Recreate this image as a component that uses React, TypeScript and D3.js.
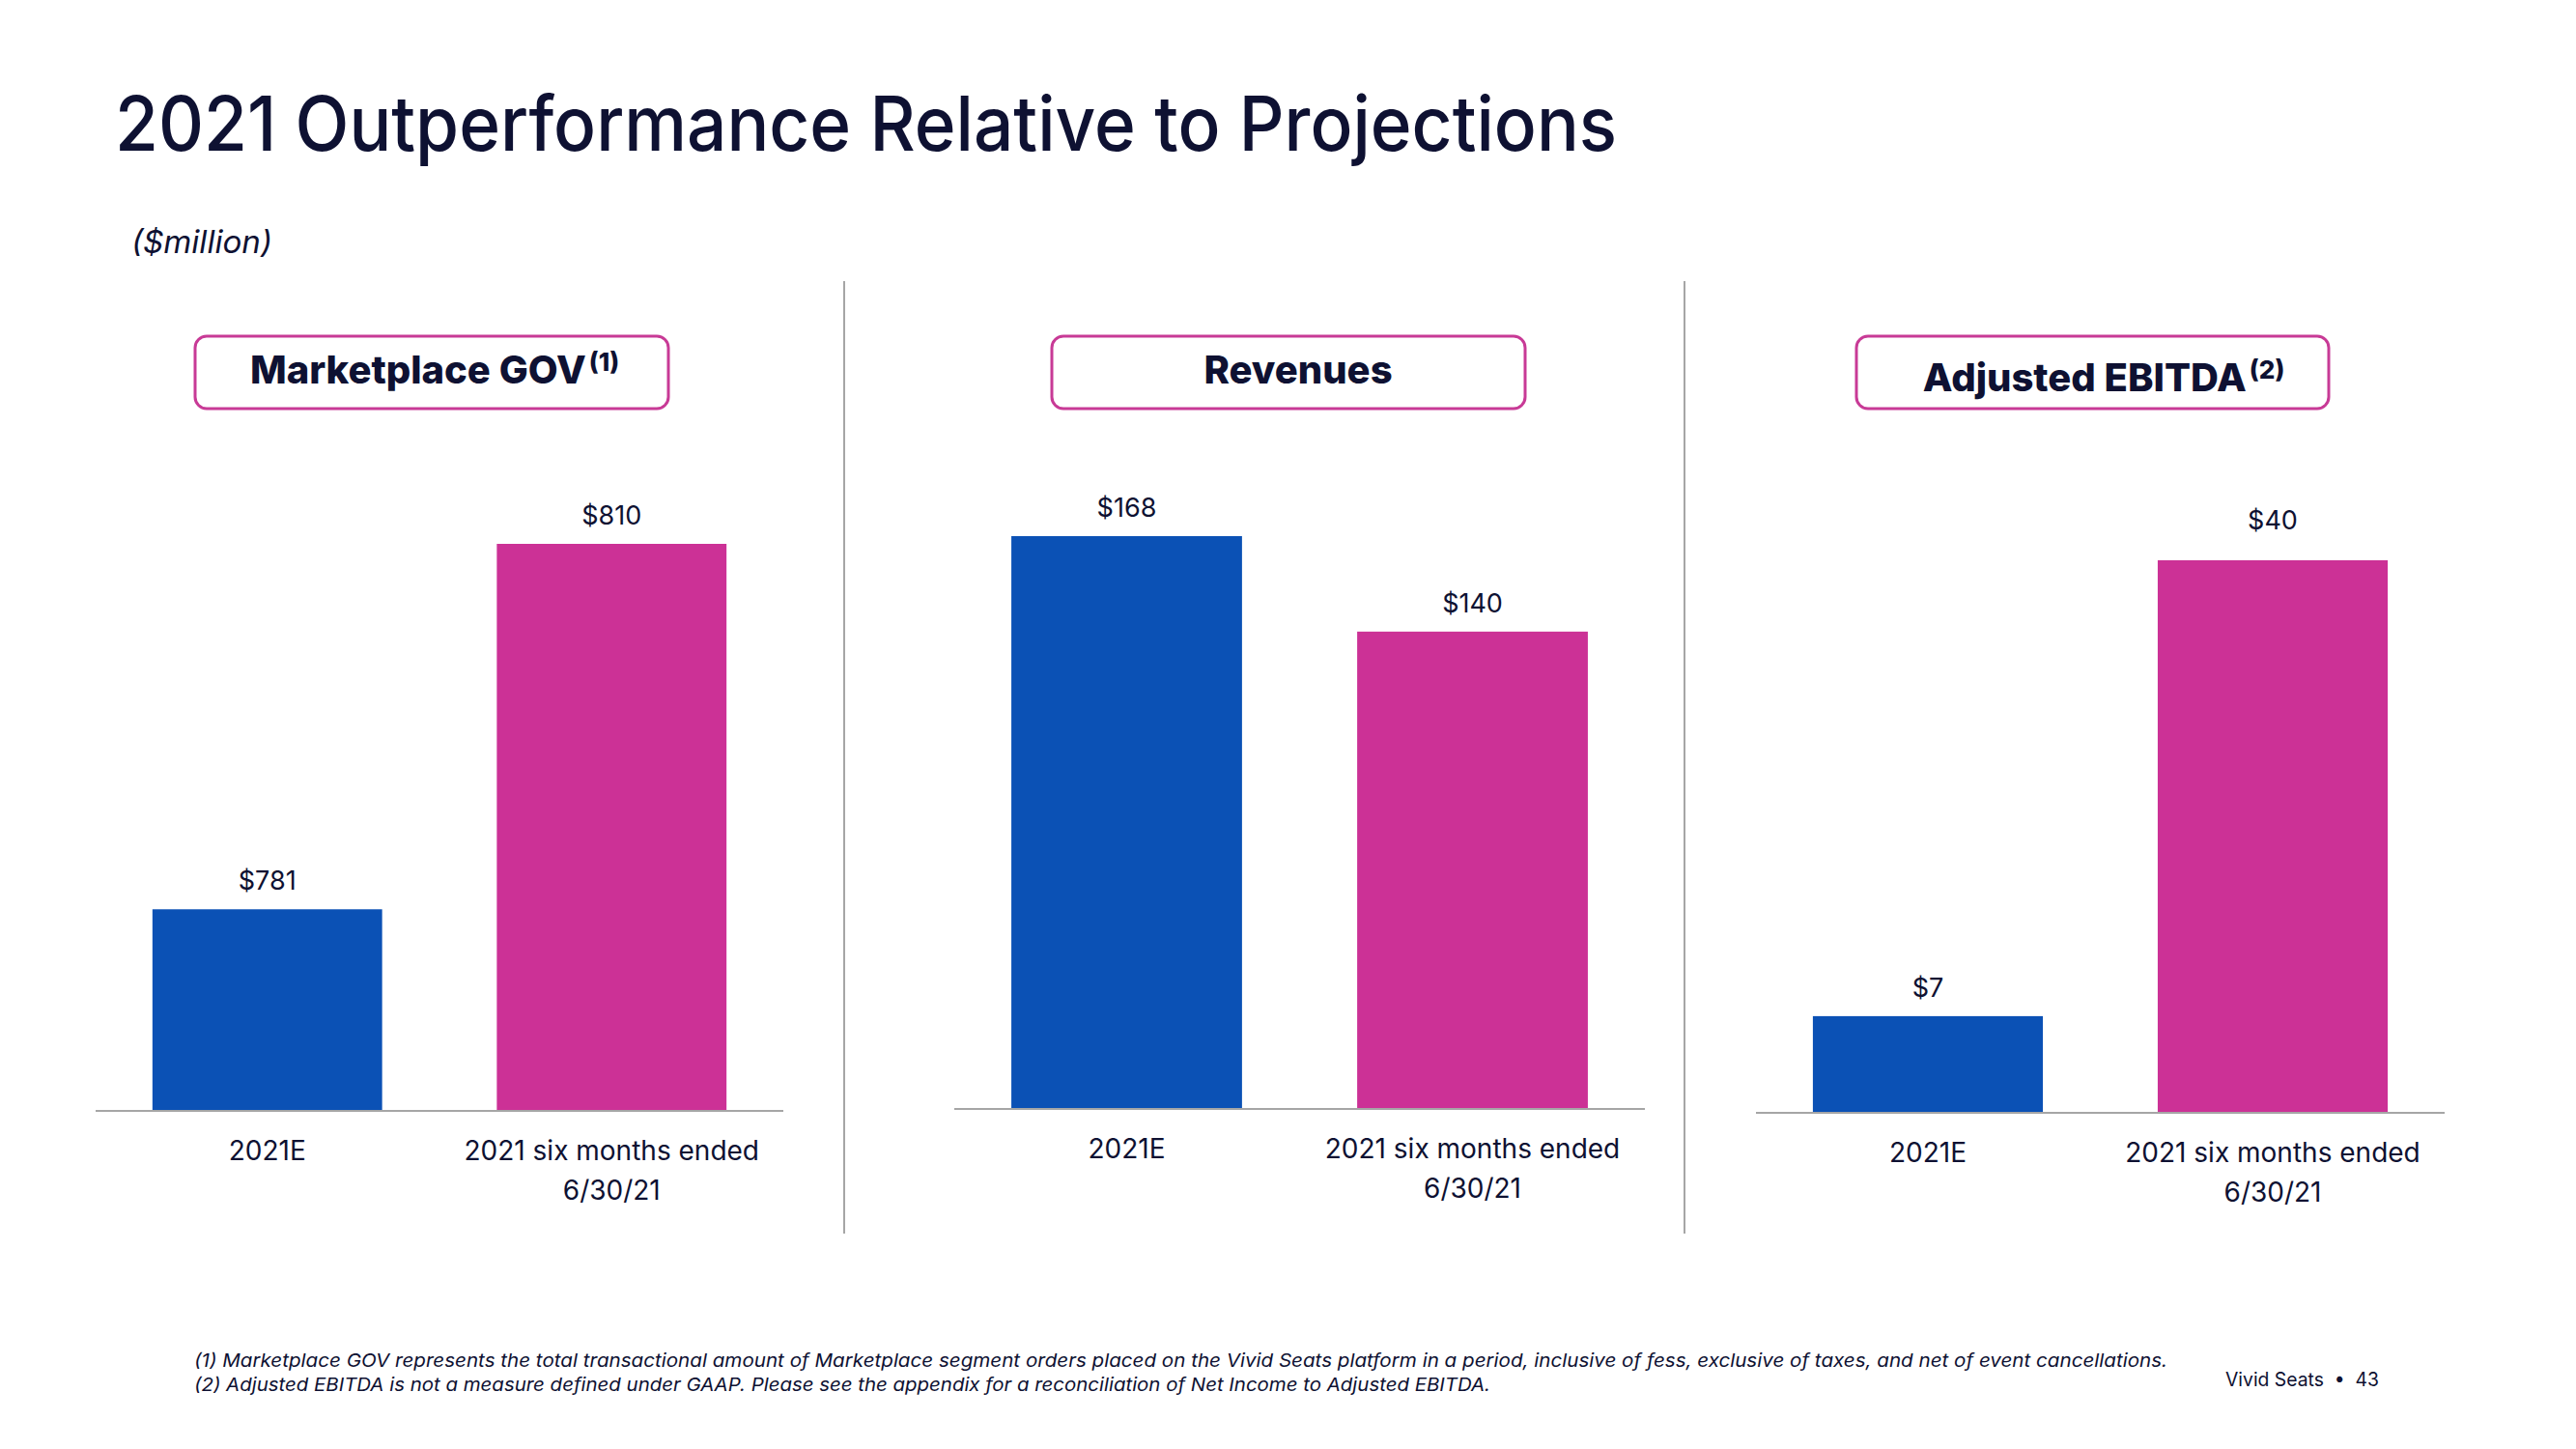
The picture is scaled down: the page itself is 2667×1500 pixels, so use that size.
import React from "react";
import * as d3 from "d3";

const W = 2667;
const H = 1500;

const titleText = "2021 Outperformance Relative to Projections";
const unitText = "($million)";
const panelTitles = ["Marketplace GOV", "Revenues", "Adjusted EBITDA"];
const panelNotes = ["(1)", "", "(2)"];
const categories = ["2021E", "2021 six months ended|6/30/21"];
const govValues = [781, 810];
const revenueValues = [168, 140];
const ebitdaValues = [7, 40];
const valueLabels = [["$781", "$810"], ["$168", "$140"], ["$7", "$40"]];
const axisMins = [765, 0, 0];
const footnotes = [
  "(1) Marketplace GOV represents the total transactional amount of Marketplace segment orders placed on the Vivid Seats platform in a period, inclusive of fess, exclusive of taxes, and net of event cancellations.",
  "(2) Adjusted EBITDA is not a measure defined under GAAP.  Please see the appendix for a reconciliation of Net Income to Adjusted EBITDA.",
];
const pageLabel = "Vivid Seats  \u2022  43";

const seriesValues = [govValues, revenueValues, ebitdaValues];
const barColors = ["#0b51b5", "#cc3196"];
const INK = "#0e1132";
const FONT = "Inter, 'Open Sans', sans-serif";

const panels = [
  { x0: 99, x1: 811, axisY: 1150, topY: 563, box: [202, 692], titleX: 450, titleY: 397, catY: 1201 },
  { x0: 988, x1: 1703, axisY: 1148, topY: 555, box: [1089, 1579], titleX: 1344, titleY: 397, catY: 1199 },
  { x0: 1818, x1: 2531, axisY: 1152, topY: 580, box: [1922, 2411], titleX: 2178, titleY: 405, catY: 1203 },
];

export default function App() {
  return (
    <svg width={W} height={H} style={{ display: "block", position: "absolute", left: 0, top: 0, background: "#fff" }}>
      <rect x={0} y={0} width={W} height={H} fill="#fff" />
      <text x={119} y={156} fontFamily={FONT} fontSize={78} fontWeight={500} fill={INK} textLength={1555} lengthAdjust="spacingAndGlyphs">
        {titleText}
      </text>
      <text x={136} y={262} fontFamily={FONT} fontSize={32} fontStyle="italic" fill={INK} textLength={146} lengthAdjust="spacingAndGlyphs">
        {unitText}
      </text>
      {[874, 1744].map((x) => (
        <line key={x} x1={x} x2={x} y1={291} y2={1277} stroke="#a6a6a6" strokeWidth={2} />
      ))}
      {panels.map((p, i) => {
        const vals = seriesValues[i];
        const xs = d3.scaleBand<string>().domain(categories).range([p.x0, p.x1]).paddingInner(0.333).paddingOuter(0.165);
        const ys = d3.scaleLinear().domain([axisMins[i], d3.max(vals) as number]).range([p.axisY, p.topY]);
        return (
          <g key={i}>
            <rect x={p.box[0]} y={348} width={p.box[1] - p.box[0]} height={75} rx={12} ry={12} fill="none" stroke="#c83a96" strokeWidth={3} />
            <text x={p.titleX} y={p.titleY} textAnchor="middle" fontFamily={FONT} fontSize={40} fontWeight={800} fill={INK}>
              {panelTitles[i]}
              {panelNotes[i] ? (
                <tspan fontSize={26} dy={-13} dx={3}>{panelNotes[i]}</tspan>
              ) : null}
            </text>
            {categories.map((c, j) => (
              <rect key={c} x={xs(c)} y={ys(vals[j])} width={xs.bandwidth()} height={p.axisY - ys(vals[j])} fill={barColors[j]} />
            ))}
            <line x1={p.x0} x2={p.x1} y1={p.axisY} y2={p.axisY} stroke="#a6a6a6" strokeWidth={2} />
            {categories.map((c, j) => (
              <text key={"v" + c} x={(xs(c) as number) + xs.bandwidth() / 2} y={ys(vals[j]) - (i === 2 && j === 1 ? 32 : 20)} textAnchor="middle" fontFamily={FONT} fontSize={27} fill={INK}>
                {valueLabels[i][j]}
              </text>
            ))}
            {categories.map((c, j) => (
              <text key={"c" + c} x={(xs(c) as number) + xs.bandwidth() / 2} y={p.catY} textAnchor="middle" fontFamily={FONT} fontSize={28} fill={INK}>
                {c.split("|").map((line, k) => (
                  <tspan key={k} x={(xs(c) as number) + xs.bandwidth() / 2} dy={k === 0 ? 0 : 41}>{line}</tspan>
                ))}
              </text>
            ))}
          </g>
        );
      })}
      {footnotes.map((f, k) => (
        <text key={k} x={201} y={1415 + k * 25} fontFamily={FONT} fontSize={19} fontStyle="italic" fill={INK} textLength={k === 0 ? 2043 : 1342} lengthAdjust="spacingAndGlyphs">
          {f}
        </text>
      ))}
      <text x={2304} y={1435} fontFamily={FONT} fontSize={20} fill={INK} textLength={159} lengthAdjust="spacingAndGlyphs" xmlSpace="preserve">
        {pageLabel}
      </text>
    </svg>
  );
}
